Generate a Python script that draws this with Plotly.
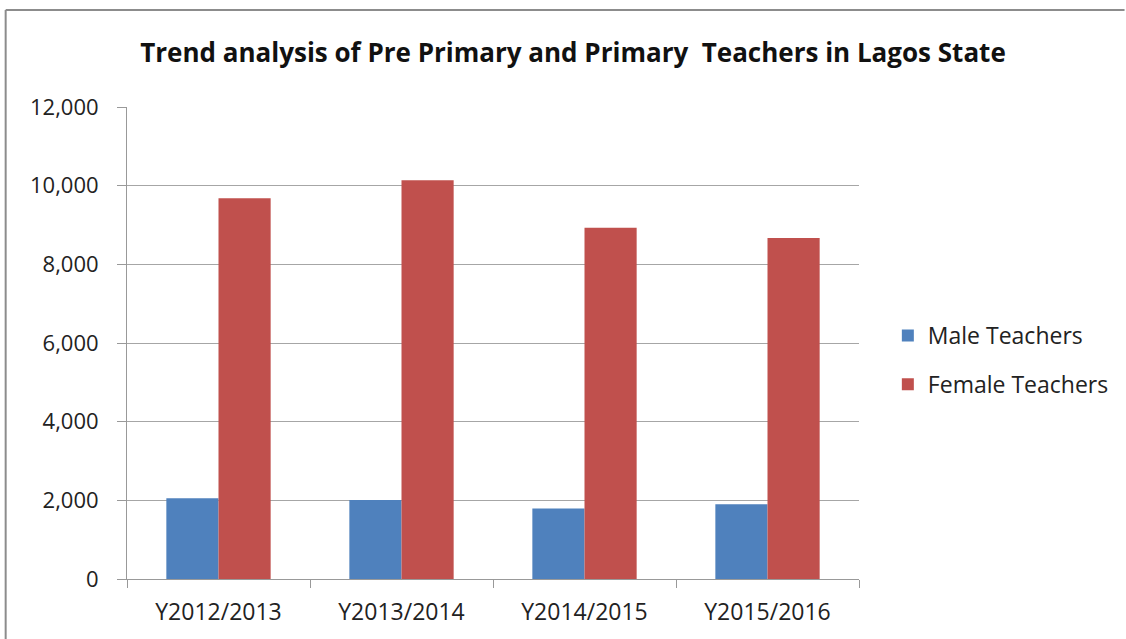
import plotly.graph_objects as go

categories = ["Y2012/2013", "Y2013/2014", "Y2014/2015", "Y2015/2016"]
male_teachers = [2050, 2010, 1790, 1900]
female_teachers = [9680, 10140, 8930, 8670]
y_ticks = [0, 2000, 4000, 6000, 8000, 10000, 12000]

W, H = 1126, 639
L, R, T, B = 127, 263, 107, 60
pw, ph = W - L - R, H - T - B

def px_x(x):
    return (x - L) / pw

def px_y(y):
    return (H - B - y) / ph

font_family = "'Open Sans', sans-serif"

fig = go.Figure()
fig.add_trace(go.Bar(x=categories, y=male_teachers, name="Male Teachers",
                     marker=dict(color="#4F81BD", line=dict(width=0)), legendgroup="m"))
fig.add_trace(go.Bar(x=categories, y=female_teachers, name="Female Teachers",
                     marker=dict(color="#C0504D", line=dict(width=0)), legendgroup="f"))

fig.update_layout(
    width=W, height=H,
    margin=dict(l=L, r=R, t=T, b=B),
    paper_bgcolor="white", plot_bgcolor="white",
    barmode="group", bargap=0.43, bargroupgap=0,
    font=dict(family=font_family, size=21, color="#222222"),
    title=dict(text="<b>Trend analysis of Pre Primary and Primary  Teachers in Lagos State</b>",
               x=573 / W, xanchor="center", y=1 - 53 / H, yanchor="middle",
               font=dict(family=font_family, size=26, color="#111111")),
    legend=dict(x=px_x(892), y=px_y(314), xanchor="left", yanchor="top",
                font=dict(size=23, color="#222222"), tracegroupgap=16,
                itemwidth=30, bgcolor="rgba(0,0,0,0)"),
    xaxis=dict(showline=True, linecolor="#999999", linewidth=1,
               ticks="outside", tickson="boundaries", ticklen=8, tickcolor="#999999",
               showgrid=False, tickfont=dict(size=23), ticklabelstandoff=12),
    yaxis=dict(range=[0, 12000], tickvals=y_ticks, tickformat=",d",
               showline=True, linecolor="#999999", linewidth=1,
               ticks="outside", ticklen=9, tickcolor="#999999",
               showgrid=True, gridcolor="#a6a6a6", gridwidth=1,
               zeroline=False, tickfont=dict(size=22), ticklabelstandoff=14),
    shapes=[
        dict(type="line", xref="paper", yref="paper", x0=px_x(5), x1=px_x(1130),
             y0=px_y(10), y1=px_y(10), line=dict(color="#8c8c8c", width=2)),
        dict(type="line", xref="paper", yref="paper", x0=px_x(5), x1=px_x(5),
             y0=px_y(10), y1=px_y(645), line=dict(color="#8c8c8c", width=2)),
    ],
)

fig.write_html("out.html", config={"displayModeBar": False},
               post_script="document.body.style.margin='0px';")
